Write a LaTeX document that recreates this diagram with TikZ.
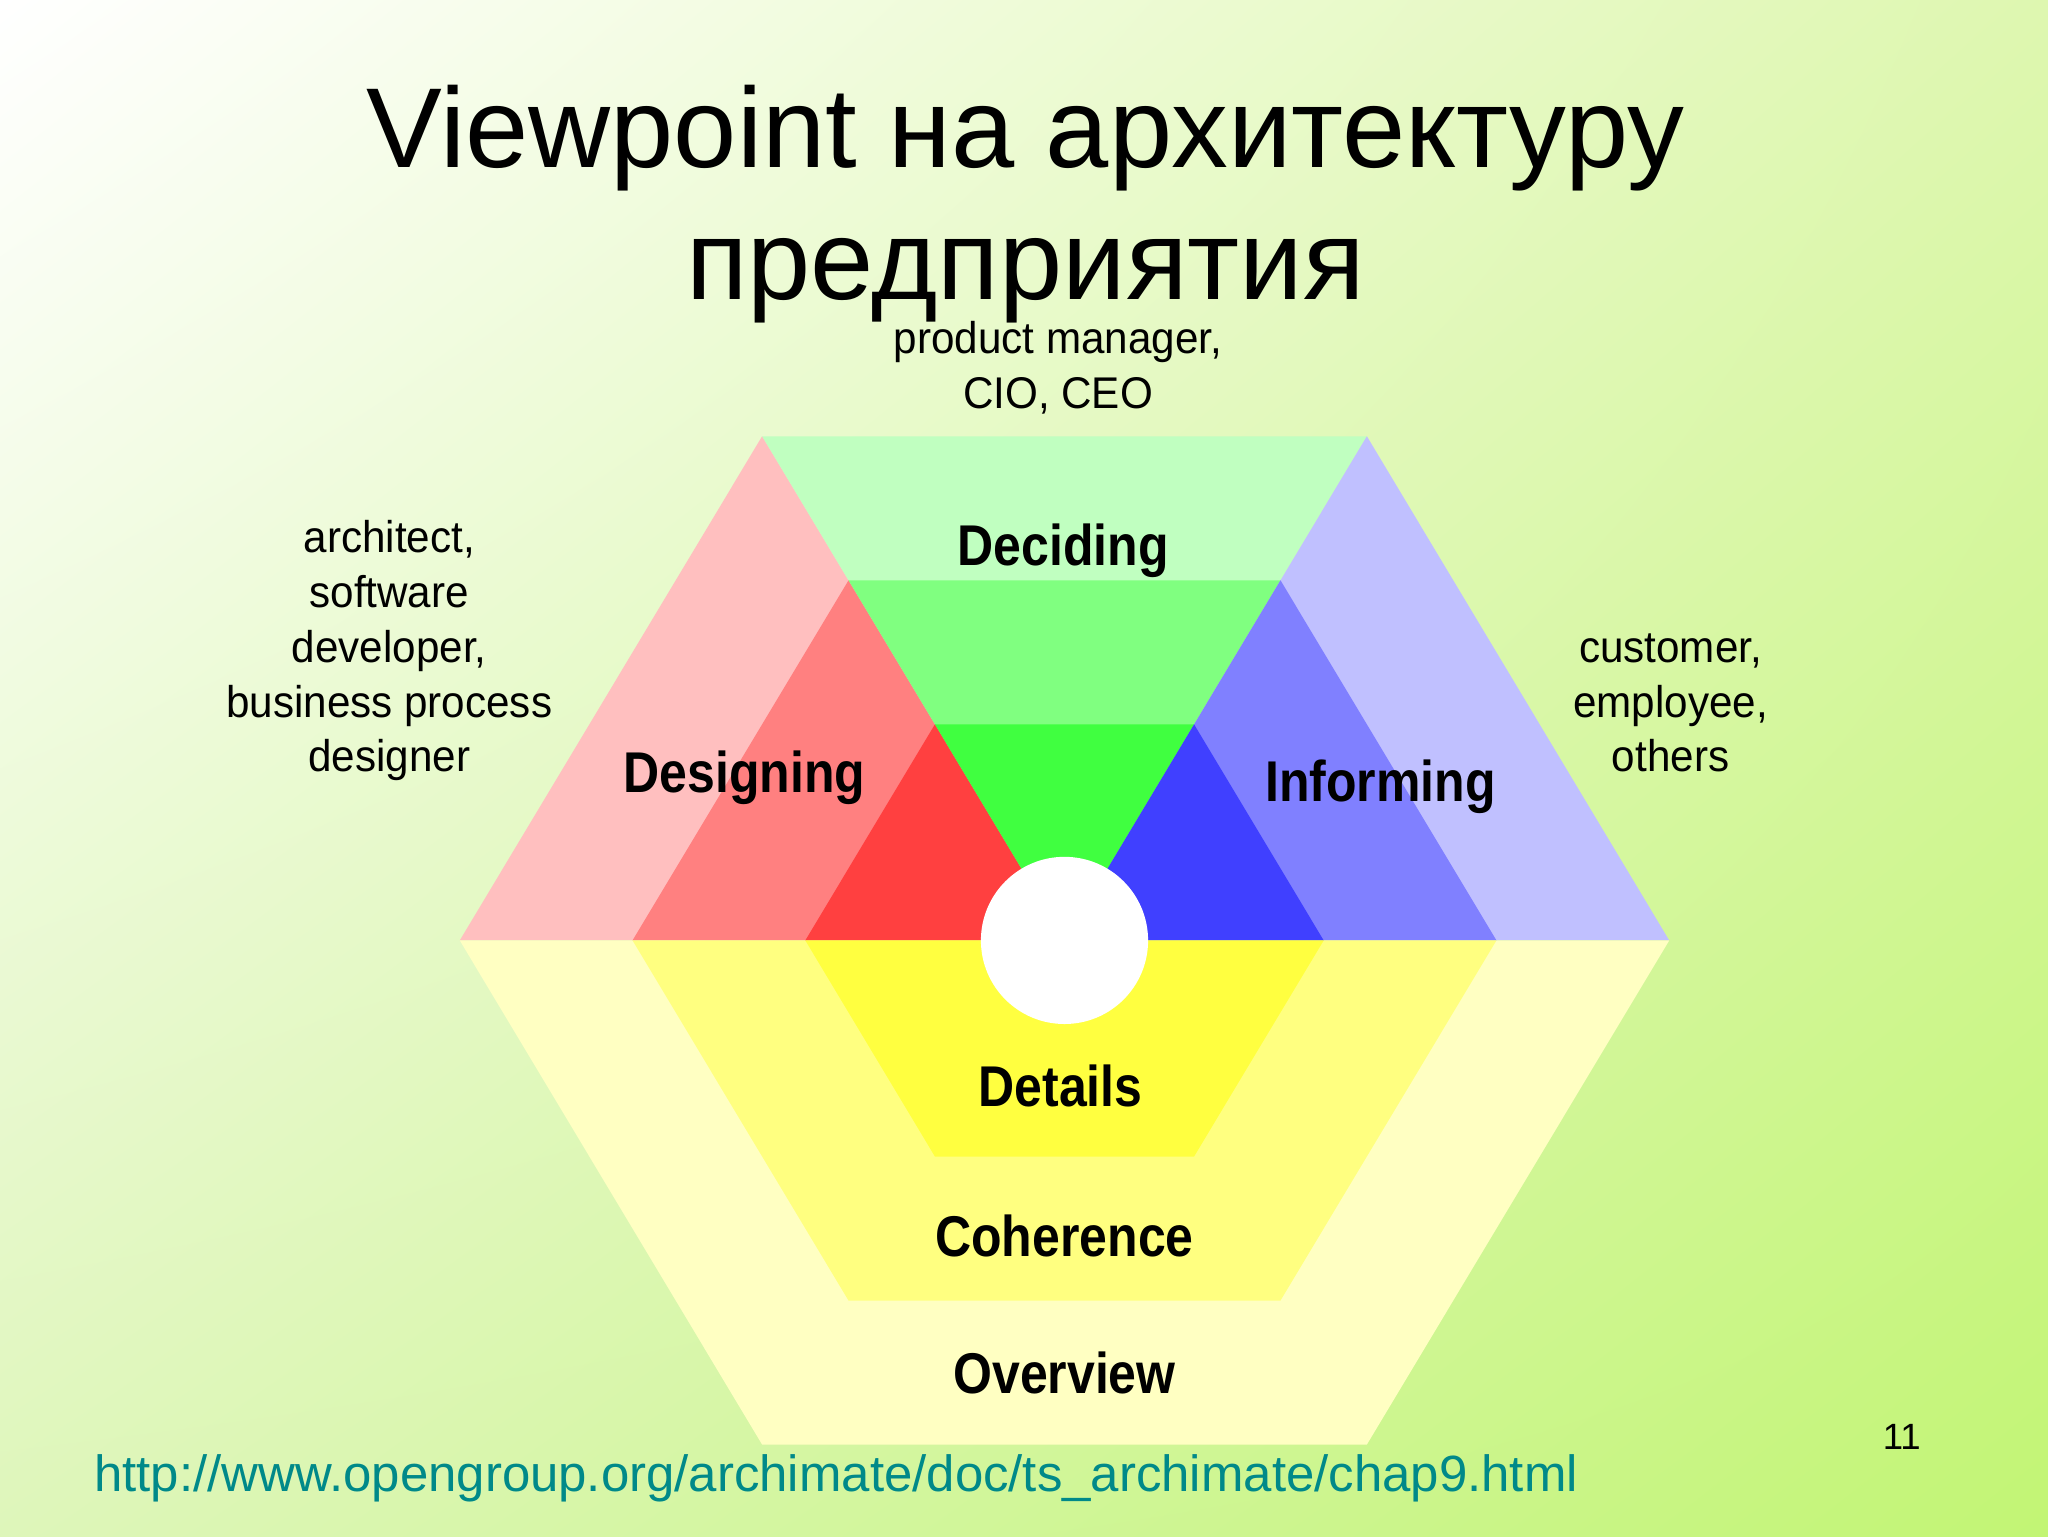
\documentclass[tikz,border=0pt]{standalone}
\usetikzlibrary{shadings,calc}
\usepackage{fontspec}
\setmainfont{Liberation Sans}
\newfontfamily\pxbold[FakeStretch=0.87]{Liberation Sans}
\newfontfamily\pxthin[FakeStretch=0.95]{Liberation Sans}
\definecolor{rA}{RGB}{255,191,191}
\definecolor{rB}{RGB}{255,128,128}
\definecolor{rC}{RGB}{255,64,64}
\definecolor{gA}{RGB}{192,255,192}
\definecolor{gB}{RGB}{128,255,128}
\definecolor{gC}{RGB}{64,255,64}
\definecolor{bA}{RGB}{192,192,255}
\definecolor{bB}{RGB}{128,128,255}
\definecolor{bC}{RGB}{64,64,255}
\definecolor{yA}{RGB}{255,255,194}
\definecolor{yB}{RGB}{255,255,128}
\definecolor{yC}{RGB}{255,255,64}
\definecolor{bgTL}{RGB}{255,255,255}
\definecolor{bgTR}{RGB}{222,247,176}
\definecolor{bgBL}{RGB}{222,246,186}
\definecolor{bgBR}{RGB}{194,245,116}
\definecolor{urlc}{RGB}{0,137,137}
\tikzset{
  band/.style={draw=none},
  title/.style={font=\fontsize{87}{104}\selectfont, align=center, anchor=base},
  seg/.style={font=\pxbold\bfseries\fontsize{44}{50}\selectfont, anchor=base, inner sep=0pt},
  role/.style={font=\pxthin\fontsize{34}{42}\selectfont, align=center, anchor=base, inner sep=0pt},
}
\begin{document}
\begin{tikzpicture}[x=1pt,y=-1pt]
\useasboundingbox (0,0) rectangle (1568,1176);
\shade[upper left=bgTL, upper right=bgTR, lower left=bgBL, lower right=bgBR] (0,0) rectangle (1568,1176);
% hexagon geometry
\coordinate (C) at (815,720);
\foreach \s/\k in {1/A, 0.7143/B, 0.4286/C}{
  \fill[band, fill=r\k] (C) -- ($(C)+(-463*\s,0)$) -- ($(C)+(-231.5*\s,-386*\s)$) -- cycle;
  \fill[band, fill=g\k] (C) -- ($(C)+(-231.5*\s,-386*\s)$) -- ($(C)+(231.5*\s,-386*\s)$) -- cycle;
  \fill[band, fill=b\k] (C) -- ($(C)+(231.5*\s,-386*\s)$) -- ($(C)+(463*\s,0)$) -- cycle;
  \fill[band, fill=y\k] (C) -- ($(C)+(463*\s,0)$) -- ($(C)+(231.5*\s,386*\s)$) -- ($(C)+(-231.5*\s,386*\s)$) -- ($(C)+(-463*\s,0)$) -- cycle;
}
\fill[white] (C) circle (64);
% labels
\node[seg] (deciding) at (814,433) {Deciding};
\node[seg] (designing) at (570,607) {Designing};
\node[seg] (informing) at (1057,614) {Informing};
\node[seg] (details) at (812,847) {Details};
\node[seg] (coherence) at (815,962) {Coherence};
\node[seg] (overview) at (815,1067) {Overview};
\node[role] (top) at (810,313) {product manager,\\CIO, CEO};
\node[role] (left) at (298,591) {architect,\\software\\developer,\\business process\\designer};
\node[role] (right) at (1279,591) {customer,\\employee,\\others};
% title
\node[title] (t1) at (785,128) {Viewpoint на архитектуру};
\node[title] (t2) at (785,229) {предприятия};
\node[font=\fontsize{39}{46}\selectfont, text=urlc, anchor=base west, inner sep=0pt] (url) at (72,1142) {http://www.opengroup.org/archimate/doc/ts\_archimate/chap9.html};
\node[font=\fontsize{28}{32}\selectfont, anchor=base, inner sep=0pt] (page) at (1456,1110) {11};
\end{tikzpicture}
\end{document}
